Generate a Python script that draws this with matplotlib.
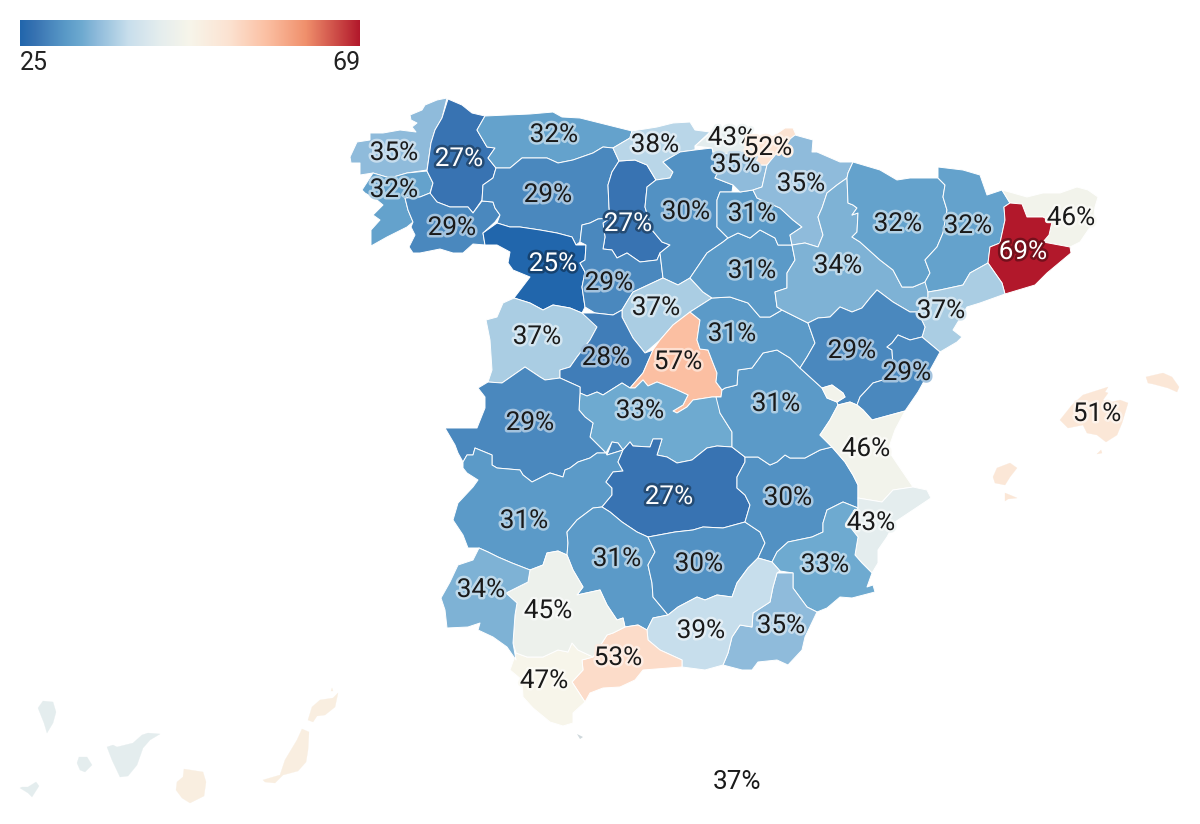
import numpy as np
import matplotlib
matplotlib.use("Agg")
import matplotlib.pyplot as plt
import matplotlib.patheffects as pe
from matplotlib.colors import LinearSegmentedColormap, Normalize, to_rgb
from matplotlib.patches import Polygon

plt.rcParams['font.family'] = ['Roboto', 'DejaVu Sans']

# ---- data ----
PROVINCES = ["A Coruña", "Pontevedra", "Lugo", "Ourense", "Asturias", "León", "Zamora", "Palencia",
             "Valladolid", "Cantabria", "Burgos", "Segovia", "Salamanca", "Ávila", "Madrid", "Toledo",
             "Cáceres", "Badajoz", "Ciudad Real", "Córdoba", "Jaén", "Albacete", "Cuenca", "Guadalajara",
             "Soria", "La Rioja", "Bizkaia", "Araba", "Gipuzkoa", "Navarra", "Zaragoza", "Huesca", "Lleida",
             "Girona", "Barcelona", "Tarragona", "Teruel", "Castellón", "Valencia", "Alicante", "Murcia",
             "Almería", "Granada", "Málaga", "Cádiz", "Sevilla", "Huelva", "Baleares"]
VALUES = [35, 32, 27, 29, 32, 29, 25, 27,
          29, 38, 30, 37, 37, 28, 57, 33,
          29, 31, 27, 31, 30, 30, 31, 31,
          31, 31, 43, 35, 52, 35, 34, 32, 32,
          46, 69, 37, 29, 29, 46, 43, 33,
          35, 39, 53, 47, 45, 34, 51]
UNLABELLED = {"Santa Cruz de Tenerife": 43, "Las Palmas": 49}
TOTAL = 37
SCALE_MIN, SCALE_MAX = 25, 69

COLOR_STOPS = [(25, "#2166ac"), (27, "#3873b2"), (29, "#4a88be"), (31, "#5b9bc8"), (33, "#6eaad0"),
               (35, "#8fbbdb"), (37, "#aacde3"), (39, "#c8deec"), (43, "#e4edee"), (47, "#f7f5ea"),
               (52, "#fce3d2"), (57, "#fbbfa2"), (62, "#f0906c"), (69, "#b2182b")]

# outlines, in picture pixels (no boundary file is available offline)
OUTLINES = {
"A Coruña": [[(447,98),(437,100),(425,105),(422,110),(410,115),(411,120),(417,123),(412,127),(416,132),(400,130),(383,133),(370,133),(370,140),(357,142),(350,157),(351,163),(360,163),(360,175),(373,173),(390,178),(407,173),(427,170),(431,143),(435,130),(442,118)]],
"Pontevedra": [[(373,173),(362,190),(365,193),(377,200),(383,205),(373,215),(380,220),(371,230),(371,246),(387,237),(407,227),(413,222),(408,210),(405,198),(420,197),(430,193),(433,183),(427,171),(407,173),(390,178)]],
"Lugo": [[(448,99),(462,105),(472,113),(485,116),(477,130),(487,147),(495,148),(488,158),(496,168),(493,178),(483,185),(482,200),(473,213),(468,207),(450,207),(437,202),(430,194),(433,183),(427,171),(431,143),(435,130),(442,118)]],
"Ourense": [[(405,198),(420,197),(430,193),(437,202),(450,207),(468,207),(473,213),(482,201),(493,202),(495,208),(500,215),(495,222),(483,233),(485,245),(473,244),(463,253),(453,253),(440,249),(420,253),(413,253),(409,247),(415,235),(411,227),(413,222),(408,210)]],
"Asturias": [[(485,116),(507,115),(530,114),(553,112),(562,117),(580,118),(600,123),(632,131),(630,138),(613,148),(603,147),(593,153),(573,160),(558,163),(547,158),(533,158),(522,158),(510,168),(496,168),(488,158),(495,148),(487,147),(477,130)]],
"León": [[(496,168),(510,168),(522,158),(533,158),(547,158),(558,163),(573,160),(593,153),(603,147),(613,148),(619,161),(612,172),(608,185),(609,207),(610,218),(598,219),(590,223),(582,225),(580,242),(576,245),(572,237),(557,233),(540,230),(520,227),(510,227),(497,223),(500,215),(495,208),(493,202),(482,201),(483,185),(493,178)]],
"Zamora": [[(497,223),(510,227),(520,227),(540,230),(557,233),(572,237),(576,245),(586,245),(585,260),(580,263),(585,272),(582,287),(585,307),(582,313),(570,308),(553,305),(543,310),(530,303),(514,298),(530,277),(513,270),(508,263),(510,252),(497,245),(485,245),(483,233)]],
"Palencia": [[(619,161),(612,172),(608,185),(609,207),(610,218),(603,223),(605,237),(603,249),(612,250),(617,258),(627,253),(640,262),(657,260),(660,253),(670,245),(662,242),(652,230),(645,207),(647,187),(656,180),(647,165),(635,160)]],
"Valladolid": [[(610,218),(598,219),(590,223),(582,225),(580,242),(586,245),(585,260),(580,263),(585,272),(582,287),(585,307),(595,313),(613,315),(622,310),(628,300),(633,292),(663,278),(660,253),(657,260),(640,262),(627,253),(617,258),(612,250),(603,249),(605,237),(603,223)]],
"Cantabria": [[(632,131),(657,127),(673,123),(690,122),(695,130),(710,132),(695,146),(695,150),(680,152),(663,162),(673,172),(670,178),(656,180),(647,165),(635,160),(619,161),(613,148),(630,138)]],
"Burgos": [[(695,150),(680,152),(663,162),(673,172),(670,178),(656,180),(647,187),(645,207),(652,230),(662,242),(670,245),(660,253),(663,278),(678,285),(690,278),(707,253),(723,242),(728,238),(717,227),(717,200),(720,192),(732,192),(733,185),(715,178),(718,172),(713,152),(712,148)],
           [(730,180),(740,178),(748,182),(747,189),(737,187)]],
"Segovia": [[(633,292),(663,278),(678,285),(690,278),(703,292),(712,298),(690,312),(673,325),(660,340),(645,353),(633,338),(622,317),(622,310),(628,300)]],
"Salamanca": [[(514,298),(503,303),(497,317),(486,320),(490,340),(492,370),(488,382),(502,383),(525,367),(540,377),(545,380),(560,378),(560,370),(570,367),(577,357),(590,340),(597,327),(595,313),(582,313),(570,308),(553,305),(543,310),(530,303)]],
"Ávila": [[(582,313),(595,313),(613,315),(622,310),(622,317),(633,338),(645,353),(653,350),(643,373),(630,388),(622,383),(603,395),(597,392),(587,396),(580,393),(580,387),(560,378),(560,370),(570,367),(577,357),(590,340),(597,327)]],
"Madrid": [[(690,312),(700,320),(697,340),(700,349),(708,350),(713,363),(717,373),(716,382),(722,390),(721,397),(712,397),(693,400),(687,407),(677,413),(673,411),(683,405),(688,395),(675,389),(657,382),(648,386),(643,380),(635,388),(630,388),(643,373),(653,350),(660,340),(673,325)]],
"Toledo": [[(580,393),(587,396),(597,392),(603,395),(622,383),(630,388),(635,388),(643,380),(648,386),(657,382),(675,389),(688,395),(683,405),(673,411),(677,413),(687,407),(693,400),(712,397),(721,397),(720,413),(732,432),(732,447),(717,446),(707,448),(692,460),(677,463),(667,457),(657,455),(662,439),(653,439),(650,447),(633,446),(630,442),(623,450),(618,443),(612,442),(606,453),(590,437),(593,423),(585,417),(579,410)]],
"Cáceres": [[(488,382),(502,383),(525,367),(540,377),(545,380),(560,378),(580,387),(580,393),(579,410),(585,417),(593,423),(590,437),(606,453),(597,453),(590,458),(578,462),(570,468),(565,470),(563,477),(550,473),(540,478),(532,482),(523,475),(520,470),(497,468),(492,465),(492,455),(475,448),(473,455),(467,455),(463,462),(458,453),(455,445),(445,428),(477,428),(485,408),(485,397),(478,388)],
            [(612,442),(618,443),(623,450),(607,455)]],
"Badajoz": [[(463,462),(467,455),(473,455),(475,448),(492,455),(492,465),(497,468),(520,470),(523,475),(532,482),(540,478),(550,473),(563,477),(565,470),(570,468),(578,462),(590,458),(597,453),(606,453),(607,455),(623,450),(618,462),(623,471),(613,472),(606,482),(612,488),(612,495),(602,507),(593,508),(577,520),(567,532),(568,543),(567,555),(558,551),(547,553),(543,565),(530,570),(512,563),(498,557),(488,552),(479,548),(468,548),(463,535),(453,520),(458,503),(473,487),(478,480),(467,473),(463,468)]],
"Ciudad Real": [[(623,450),(630,442),(633,446),(650,447),(653,439),(662,439),(657,455),(667,457),(677,463),(692,460),(707,448),(717,446),(732,447),(745,457),(745,462),(737,477),(737,488),(745,495),(750,505),(745,522),(723,528),(703,527),(693,530),(675,532),(648,537),(637,532),(622,522),(610,512),(602,507),(612,495),(612,488),(606,482),(613,472),(623,471),(618,462)]],
"Córdoba": [[(602,507),(593,508),(577,520),(567,532),(568,543),(567,555),(573,570),(583,587),(577,595),(600,590),(607,605),(617,620),(623,618),(625,627),(638,625),(647,630),(653,618),(668,615),(653,597),(652,583),(648,565),(655,552),(648,537),(637,532),(622,522),(610,512)]],
"Jaén": [[(648,537),(675,532),(693,530),(703,527),(723,528),(745,522),(760,532),(765,543),(758,558),(748,568),(737,583),(732,597),(717,595),(705,600),(697,597),(678,607),(668,615),(653,597),(652,583),(648,565),(655,552)]],
"Albacete": [[(745,462),(745,457),(758,457),(770,465),(777,462),(785,455),(790,458),(805,458),(820,450),(832,447),(845,462),(853,475),(858,485),(858,508),(843,502),(827,510),(823,523),(823,532),(812,537),(788,542),(777,552),(772,562),(758,558),(765,543),(760,532),(745,522),(750,505),(745,495),(737,488),(737,477)]],
"Cuenca": [[(716,397),(720,413),(732,432),(732,447),(745,457),(758,457),(770,465),(777,462),(785,455),(790,458),(805,458),(820,450),(832,447),(820,435),(830,420),(838,405),(837,402),(827,398),(822,388),(800,368),(790,358),(777,350),(763,353),(752,368),(738,370),(737,385),(725,388),(722,390),(721,397)]],
"Guadalajara": [[(712,298),(730,297),(748,303),(760,317),(770,317),(782,310),(808,323),(815,343),(807,357),(800,368),(790,358),(777,350),(763,353),(752,368),(738,370),(737,385),(725,388),(722,390),(716,382),(717,373),(713,363),(708,350),(700,349),(697,340),(700,320),(690,312)]],
"Soria": [[(690,278),(707,253),(723,242),(728,238),(738,233),(750,238),(760,230),(775,238),(778,245),(792,245),(795,260),(787,273),(787,288),(775,292),(777,307),(782,310),(770,317),(760,317),(748,303),(730,297),(712,298),(703,292)]],
"La Rioja": [[(717,200),(720,192),(732,192),(740,192),(753,190),(757,198),(780,208),(793,220),(802,227),(790,235),(792,245),(778,245),(775,238),(760,230),(750,238),(738,233),(728,238),(717,227)]],
"Bizkaia": [[(695,146),(708,135),(722,128),(738,128),(752,134),(757,145),(757,165),(735,155),(713,152),(712,148)]],
"Araba": [[(713,152),(735,155),(757,165),(767,165),(762,187),(753,190),(740,192),(733,185),(715,178),(718,172)]],
"Gipuzkoa": [[(748,137),(760,140),(775,135),(785,128),(793,128),(796,135),(785,143),(775,157),(767,165),(757,165),(757,150)]],
"Navarra": [[(795,135),(813,140),(812,152),(817,152),(840,162),(853,162),(848,173),(847,178),(837,185),(827,193),(822,208),(818,217),(823,235),(818,247),(805,243),(792,245),(790,235),(802,227),(793,220),(780,208),(757,198),(753,190),(762,187),(767,165),(785,143)]],
"Zaragoza": [[(847,178),(848,203),(853,205),(857,208),(852,215),(858,213),(857,232),(852,237),(860,242),(880,260),(893,270),(902,287),(913,287),(925,282),(928,288),(928,297),(918,312),(910,312),(893,302),(877,290),(870,298),(862,308),(852,312),(840,307),(830,317),(818,318),(808,323),(782,310),(777,307),(775,292),(787,288),(787,273),(795,260),(792,245),(805,243),(818,247),(823,235),(818,217),(822,208),(827,193),(837,185)]],
"Huesca": [[(853,162),(880,170),(897,180),(910,178),(938,178),(945,185),(943,197),(947,210),(943,233),(937,247),(925,260),(930,273),(925,282),(913,287),(902,287),(893,270),(880,260),(860,242),(852,237),(857,232),(858,213),(852,215),(857,208),(853,205),(848,203),(847,178),(848,173)]],
"Lleida": [[(938,167),(963,170),(980,175),(987,195),(1002,190),(1010,203),(1004,207),(1005,220),(1000,243),(990,247),(988,263),(970,273),(963,285),(940,290),(928,292),(925,282),(930,273),(925,260),(937,247),(943,233),(947,210),(943,197),(945,185),(938,178)]],
"Girona": [[(1002,190),(1010,203),(1022,204),(1027,217),(1043,217),(1052,222),(1049,235),(1043,242),(1070,247),(1080,242),(1093,223),(1095,207),(1098,197),(1088,190),(1077,187),(1060,193),(1043,193),(1027,197),(1013,193)]],
"Barcelona": [[(1004,207),(1010,203),(1022,204),(1027,217),(1043,217),(1052,222),(1049,235),(1043,242),(1070,247),(1071,253),(1047,273),(1035,285),(1005,294),(1002,283),(988,263),(990,247),(1000,243),(1005,220)]],
"Tarragona": [[(928,292),(940,290),(963,285),(970,273),(988,263),(1002,283),(1005,294),(980,303),(967,307),(953,330),(962,337),(957,342),(940,352),(922,337),(925,327),(918,312),(928,297)]],
"Teruel": [[(808,323),(818,318),(830,317),(840,307),(852,312),(862,308),(870,298),(877,290),(893,302),(910,312),(918,312),(925,327),(922,337),(910,340),(898,335),(892,343),(887,347),(892,350),(893,367),(883,380),(873,383),(860,397),(857,405),(850,402),(838,405),(837,402),(845,397),(843,393),(832,385),(822,388),(800,368),(807,357),(815,343)]],
"Castellón": [[(922,337),(910,340),(898,335),(892,343),(887,347),(892,350),(893,367),(883,380),(873,383),(860,397),(857,405),(863,410),(872,420),(905,411),(918,392),(940,352)]],
"Valencia": [[(838,405),(850,402),(857,405),(863,410),(872,420),(905,411),(895,430),(888,450),(898,465),(913,487),(893,490),(882,502),(870,500),(858,498),(858,485),(853,475),(845,462),(832,447),(820,435),(830,420)],
             [(822,388),(832,385),(843,393),(845,397),(837,402),(827,398)]],
"Alicante": [[(858,498),(870,500),(882,502),(893,490),(913,487),(927,490),(931,498),(913,510),(895,522),(887,537),(878,550),(878,563),(872,573),(862,563),(855,555),(858,537),(847,523),(858,508)]],
"Murcia": [[(843,502),(827,510),(823,523),(823,532),(812,537),(788,542),(777,552),(772,562),(780,571),(793,573),(793,588),(807,607),(817,612),(827,608),(840,597),(852,598),(875,592),(873,585),(867,587),(872,573),(862,563),(855,555),(858,537),(847,523),(858,508)]],
"Almería": [[(777,573),(793,573),(793,588),(807,607),(817,612),(805,637),(802,650),(788,665),(777,660),(758,662),(752,670),(742,670),(723,665),(728,653),(732,637),(740,625),(752,627),(753,613),(770,602),(773,587)]],
"Granada": [[(758,558),(772,562),(780,571),(777,573),(773,587),(770,602),(753,613),(752,627),(740,625),(732,637),(728,653),(723,665),(705,670),(682,667),(682,660),(660,650),(648,640),(647,630),(653,618),(668,615),(678,607),(697,597),(705,600),(717,595),(732,597),(737,583),(748,568)]],
"Málaga": [[(638,625),(647,630),(648,640),(660,650),(682,660),(682,667),(643,670),(635,680),(620,687),(603,688),(590,693),(585,702),(572,682),(583,670),(582,660),(593,657),(607,635),(613,633),(625,627)]],
"Cádiz": [[(516,653),(527,657),(543,657),(558,650),(568,652),(572,643),(578,650),(593,657),(582,660),(583,670),(572,682),(585,702),(573,713),(573,723),(563,726),(550,722),(533,708),(523,697),(522,680),(510,670)]],
"Sevilla": [[(530,570),(543,565),(547,553),(558,551),(567,555),(573,570),(583,587),(577,595),(600,590),(607,605),(617,620),(623,618),(625,627),(613,633),(607,635),(593,657),(578,650),(572,643),(568,652),(558,650),(543,657),(527,657),(516,653),(513,643),(515,615),(517,603),(506,593),(528,582)]],
"Huelva": [[(479,548),(488,552),(498,557),(512,563),(530,570),(528,582),(506,593),(517,603),(515,615),(513,643),(516,660),(507,647),(493,637),(478,630),(480,623),(468,627),(447,628),(445,610),(441,598),(450,582),(458,565),(473,560)]],
"Baleares": [[(1060,420),(1072,405),(1083,395),(1108,387),(1105,392),(1108,393),(1103,400),(1108,403),(1120,400),(1128,403),(1122,423),(1117,435),(1106,442),(1097,435),(1087,433),(1083,425),(1068,428)],
             [(1146,377),(1163,373),(1172,377),(1179,387),(1177,392),(1168,388),(1153,384),(1148,383)],
             [(997,468),(1010,463),(1017,468),(1010,477),(1005,485),(995,483),(993,477)],
             [(1005,493),(1010,495),(1017,498),(1008,499),(1005,501)],
             [(1097,454),(1101,450),(1102,453)]],
"Santa Cruz de Tenerife": [[(38,708),(43,701),(53,702),(56,712),(53,723),(47,733),(44,723),(40,713)],
             [(77,763),(79,757),(87,757),(92,765),(85,772),(80,770)],
             [(20,788),(22,787),(28,787),(36,782),(39,786),(32,797),(28,793)],
             [(107,747),(113,745),(117,747),(133,743),(142,735),(148,733),(160,734),(150,740),(143,748),(137,765),(128,776),(120,777),(112,760)]],
"Las Palmas": [[(184,769),(203,772),(206,782),(204,796),(190,803),(182,798),(176,790),(177,782),(183,777)],
             [(263,780),(280,775),(285,760),(297,740),(302,729),(309,732),(308,750),(306,762),(298,771),(283,775),(275,783),(265,782)],
             [(308,720),(312,707),(320,700),(333,698),(338,693),(335,707),(325,715),(317,716),(313,722)],
             [(332,688),(333,691),(331,691)]],
}
CEUTA = [(577,734),(583,737),(580,739)]

LABEL_CENTRES = {
"A Coruña":(394,152),"Lugo":(459,158),"Asturias":(554,134),"Pontevedra":(394,189),"Ourense":(452,227),
"León":(548,194),"Palencia":(628,223),"Burgos":(686,211),"Cantabria":(655,144),"Bizkaia":(732,137),
"Gipuzkoa":(768,147),"Araba":(736,164),"Navarra":(801,183),"La Rioja":(752,213),"Huesca":(898,223),
"Lleida":(968,225),"Girona":(1071,217),"Barcelona":(1023,251),"Zaragoza":(838,265),"Soria":(752,270),
"Zamora":(553,263),"Valladolid":(609,282),"Tarragona":(941,310),"Segovia":(656,307),"Salamanca":(537,336),
"Guadalajara":(732,333),"Teruel":(852,350),"Castellón":(907,372),"Ávila":(606,357),"Madrid":(678,361),
"Toledo":(640,410),"Cuenca":(776,403),"Cáceres":(530,422),"Valencia":(866,448),"Ciudad Real":(669,496),
"Albacete":(788,497),"Alicante":(871,522),"Badajoz":(524,520),"Córdoba":(617,558),"Jaén":(699,563),
"Murcia":(825,564),"Huelva":(481,589),"Sevilla":(548,610),"Granada":(701,630),"Almería":(781,625),
"Málaga":(618,657),"Cádiz":(544,680),"Baleares":(1097,413)}
WHITE_TEXT_VALUES = (25, 27, 69)
LABEL_FONT = 18.8
LEGEND_FONT = 18
TEXT_SHIFT = 1  # matplotlib centres on line box, not digits

# ---- scale ----
norm = Normalize(SCALE_MIN, SCALE_MAX)
cmap = LinearSegmentedColormap.from_list("rdbu", [(norm(v), c) for v, c in COLOR_STOPS], N=512)

fig = plt.figure(figsize=(12, 8.24), dpi=100)
ax = fig.add_axes([0, 0, 1, 1])
ax.axis("off")

def mix(c, other, t):
    c = np.array(to_rgb(c)[:3]); other = np.array(to_rgb(other))
    return tuple(c * (1 - t) + other * t)

all_values = dict(zip(PROVINCES, VALUES)); all_values.update(UNLABELLED)
for name, parts in OUTLINES.items():
    col = cmap(norm(all_values[name]))
    for part in parts:
        island = name in ("Baleares", "Santa Cruz de Tenerife", "Las Palmas")
        ax.add_patch(Polygon(part, closed=True, facecolor=col, edgecolor=col if island else "white",
                             linewidth=0.2 if island else 0.7, joinstyle="round", zorder=2))
ax.add_patch(Polygon(CEUTA, closed=True, facecolor="#cfd8dc", edgecolor="none", zorder=2))

# ---- labels ----
for name, val in zip(PROVINCES, VALUES):
    x, y = LABEL_CENTRES[name]
    col = cmap(norm(val))[:3]
    if val in WHITE_TEXT_VALUES:
        tc, halo = "white", mix(col, "black", 0.35)
    else:
        tc, halo = "#1a1a1a", mix(col, "white", 0.5)
    t = ax.text(x, y + TEXT_SHIFT, f"{val}%", ha="center", va="center", fontsize=LABEL_FONT, color=tc, zorder=5)
    t.set_path_effects([pe.withStroke(linewidth=3.6, foreground=halo)])
ax.text(737, 781 + TEXT_SHIFT, f"{TOTAL}%", ha="center", va="center", fontsize=LABEL_FONT, color="#1a1a1a", zorder=5)

# ---- legend ----
grad = np.linspace(SCALE_MIN, SCALE_MAX, 512)[None, :]
ax.imshow(grad, cmap=cmap, norm=norm, extent=(20, 360, 46, 20), aspect="auto", zorder=3)
ax.text(20, 62 + TEXT_SHIFT, str(SCALE_MIN), ha="left", va="center", fontsize=LEGEND_FONT, color="#222222")
ax.text(360, 62 + TEXT_SHIFT, str(SCALE_MAX), ha="right", va="center", fontsize=LEGEND_FONT, color="#222222")

ax.set_xlim(0, 1200)
ax.set_ylim(824, 0)
fig.savefig("out.png", dpi=100, facecolor="white")
